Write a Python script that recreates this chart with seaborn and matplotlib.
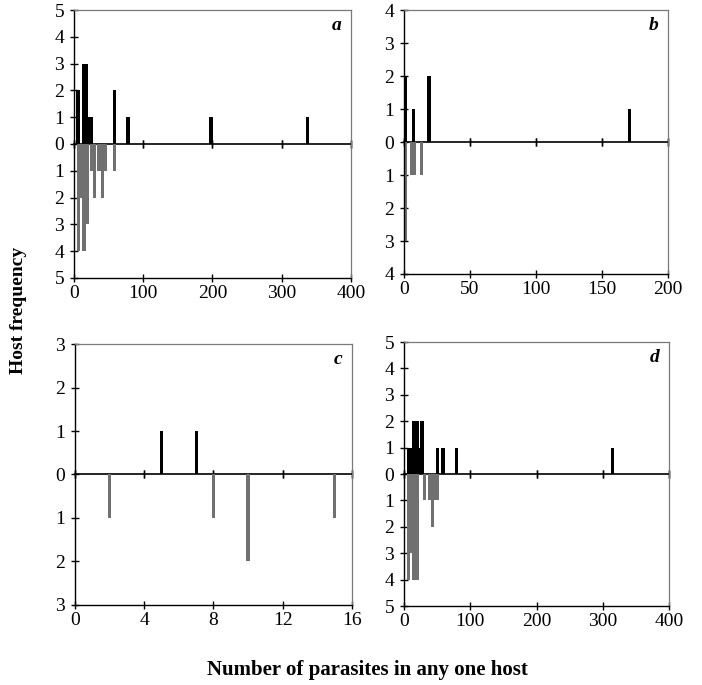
import numpy as np
import pandas as pd
import matplotlib
matplotlib.use("Agg")
import matplotlib.pyplot as plt
import seaborn as sns

# ---------------- data ----------------
# panel a
a_up_x = [6, 14, 18, 23, 25, 58, 78, 198, 337]
a_up_h = [2, 3, 3, 1, 1, 2, 1, 1, 1]
a_dn_x = [6.5, 10.5, 14.5, 19, 26, 30, 35, 37, 41.5, 46, 58]
a_dn_h = [4, 2, 4, 3, 1, 2, 1, 1, 2, 1, 1]
# panel b
b_up_x = [1, 7, 19, 171]
b_up_h = [2, 1, 2, 1]
b_dn_x = [1, 5.5, 7.5, 13.4]
b_dn_h = [3, 1, 1, 1]
# panel c
c_up_x = [5, 7]
c_up_h = [1, 1]
c_dn_x = [2, 8, 10, 15]
c_dn_h = [1, 1, 2, 1]
# panel d
d_up_x = [7.5, 10, 15, 20, 23.5, 27, 51, 59, 79.5, 315]
d_up_h = [1, 1, 2, 2, 1, 2, 1, 1, 1, 1]
d_dn_x = [7, 11, 15, 19.5, 30.7, 39, 42.7, 47, 51]
d_dn_h = [4, 3, 4, 4, 1, 1, 2, 1, 1]

panels = [
    dict(label="a", up_x=a_up_x, up_h=a_up_h, dn_x=a_dn_x, dn_h=a_dn_h,
         xlim=(0, 400), xticks=[0, 100, 200, 300, 400], ymax=5,
         pos=[0.1054, 0.5942, 0.3946, 0.3912]),
    dict(label="b", up_x=b_up_x, up_h=b_up_h, dn_x=b_dn_x, dn_h=b_dn_h,
         xlim=(0, 200), xticks=[0, 50, 100, 150, 200], ymax=4,
         pos=[0.5755, 0.6, 0.376, 0.3854]),
    dict(label="c", up_x=c_up_x, up_h=c_up_h, dn_x=c_dn_x, dn_h=c_dn_h,
         xlim=(0, 16), xticks=[0, 4, 8, 12, 16], ymax=3,
         pos=[0.1068, 0.1168, 0.3946, 0.381]),
    dict(label="d", up_x=d_up_x, up_h=d_up_h, dn_x=d_dn_x, dn_h=d_dn_h,
         xlim=(0, 400), xticks=[0, 100, 200, 300, 400], ymax=5,
         pos=[0.5755, 0.1153, 0.3775, 0.3854]),
]

sns.set_theme(style="ticks")
plt.rcParams["font.family"] = ["Liberation Serif", "DejaVu Serif"]
plt.rcParams["xtick.color"] = "black"
plt.rcParams["ytick.color"] = "black"
plt.rcParams["text.color"] = "black"

fig = plt.figure(figsize=(7.02, 6.85), dpi=100)

BAR_PX = 3.3
UP_COLOR = "#000000"
DN_COLOR = "#707070"

for p in panels:
    ax = fig.add_axes(p["pos"])
    x0, x1 = p["xlim"]
    ax_px = p["pos"][2] * 702
    w = BAR_PX * (x1 - x0) / ax_px

    up = pd.DataFrame({"x": p["up_x"], "h": p["up_h"]})
    dn = pd.DataFrame({"x": p["dn_x"], "h": [-v for v in p["dn_h"]]})

    ax.bar(dn["x"], dn["h"], width=w, color=DN_COLOR, linewidth=0, zorder=2)
    ax.bar(up["x"], up["h"], width=w, color=UP_COLOR, linewidth=0, zorder=2)

    ym = p["ymax"]
    ax.set_xlim(x0, x1)
    ax.set_ylim(-ym, ym)
    ax.set_xticks(p["xticks"])
    yt = list(range(-ym, ym + 1))
    ax.set_yticks(yt)
    ax.set_yticklabels([str(abs(v)) for v in yt])
    ax.tick_params(axis="both", which="major", direction="inout", length=6,
                   width=1, color="black", labelcolor="black", labelsize=14,
                   bottom=True, left=True, top=False, right=False)
    ax.tick_params(axis="y", pad=4)
    ax.tick_params(axis="x", pad=2)

    for side in ["left", "bottom"]:
        ax.spines[side].set_visible(True)
        ax.spines[side].set_color("black")
        ax.spines[side].set_linewidth(1.0)
    for side in ["top", "right"]:
        ax.spines[side].set_visible(True)
        ax.spines[side].set_color("#7a7a7a")
        ax.spines[side].set_linewidth(0.9)

    # zero line with crossing ticks
    sec = ax.secondary_xaxis(0.5)
    sec.set_xticks(p["xticks"])
    sec.set_xticklabels([])
    sec.tick_params(axis="x", direction="inout", length=6, width=1,
                    color="black", bottom=True)
    for s in sec.spines.values():
        s.set_color("black")
        s.set_linewidth(1.2)

    ax.text(0.965, 0.975, p["label"], transform=ax.transAxes, ha="right",
            va="top", fontsize=14, fontweight="bold", fontstyle="italic")

fig.text(0.026, 0.547, "Host frequency", rotation=90, ha="center", va="center",
         fontsize=14, fontweight="bold")
fig.text(0.523, 0.022, "Number of parasites in any one host", ha="center",
         va="center", fontsize=15, fontweight="bold")

fig.savefig("out.png", dpi=100, facecolor="white")
